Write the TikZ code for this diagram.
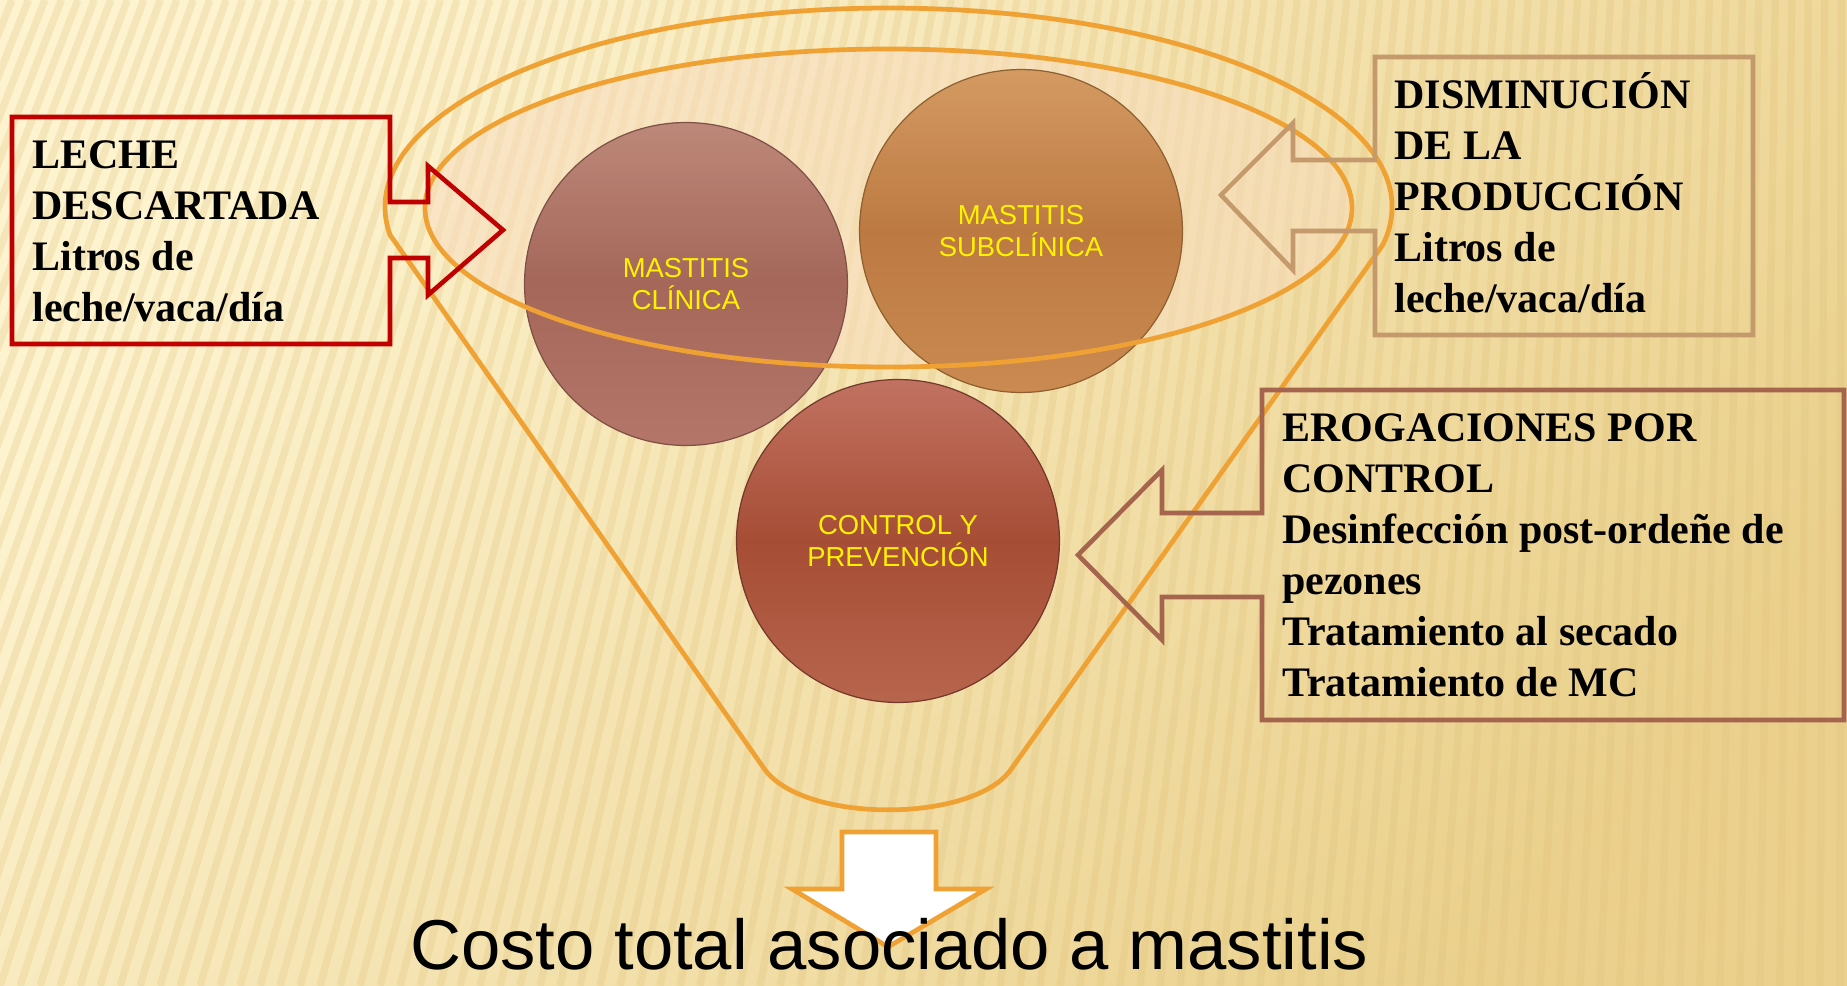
\documentclass[tikz,border=0pt]{standalone}
\usepackage{fontspec}
\setmainfont{Liberation Serif}
\setsansfont{Liberation Sans}
\usepackage{tikz}
\usetikzlibrary{calc}
\usepackage{xcolor}
\definecolor{FunnelOrange}{HTML}{EFA233}
\definecolor{CallRed}{HTML}{C00000}
\definecolor{CallTan}{HTML}{C49A6C}
\definecolor{CallBrown}{HTML}{A5644E}
\definecolor{BgLight}{HTML}{FDF3CF}
\definecolor{BgDark}{HTML}{EAD08C}
\definecolor{Stripe}{HTML}{DFC078}
\definecolor{PeachFill}{HTML}{F8DCC0}
\definecolor{CircYellow}{HTML}{FFF200}
% circle shades
\definecolor{ClinTop}{HTML}{BD8879}
\definecolor{ClinMid}{HTML}{A4675A}
\definecolor{ClinBot}{HTML}{B37668}
\definecolor{ClinRim}{HTML}{7E5046}
\definecolor{SubTop}{HTML}{D49A62}
\definecolor{SubMid}{HTML}{BC7A42}
\definecolor{SubBot}{HTML}{CA8A51}
\definecolor{SubRim}{HTML}{8E6030}
\definecolor{CtrlTop}{HTML}{C27262}
\definecolor{CtrlMid}{HTML}{A64D35}
\definecolor{CtrlBot}{HTML}{B8654E}
\definecolor{CtrlRim}{HTML}{74392A}
\tikzset{
  cost circle/.style={circle,minimum size=6.46cm,inner sep=0pt,align=center,
    text=CircYellow,font=\sffamily\fontsize{15.6}{18.2}\selectfont,line width=0.7pt},
  callout line/.style={line width=2.6pt,line join=miter},
  box text/.style={anchor=north west,inner sep=0pt,align=left,
    font=\fontsize{23.9}{29}\selectfont\bfseries},
  funnel line/.style={draw=FunnelOrange,line width=2.7pt,line join=round}
}

\begin{document}
\begin{tikzpicture}[x=0.02cm,y=-0.02cm]
  \useasboundingbox (0,0) rectangle (1847,986);
  % background and stripes
  \shade[top color=BgLight,bottom color=BgDark,shading angle=50] (0,0) rectangle (1847,986);
  \begin{scope}
    \clip (0,0) rectangle (1847,986);
    \foreach \xb in {-500,-480,...,1900}
      \draw[Stripe,line width=4.2pt,opacity=0.25] (\xb,986) -- ({0.824*\xb+325},0);
  \end{scope}
  \fill[PeachFill,opacity=0.5] (888.5,208) ellipse [x radius=463.5,y radius=159];
  % funnel
  \draw[funnel line] (1382.75,245) arc[start angle=11,end angle=-188,x radius=503.5,y radius=199]
    -- (763,767) .. controls (800,824) and (975,824) .. (1012,768) -- cycle;
  % the three circles
  \node[cost circle,draw=ClinRim,top color=ClinTop,bottom color=ClinBot,middle color=ClinMid]
    (clinica) at (686,284) {MASTITIS\\CLÍNICA};
  \node[cost circle,draw=SubRim,top color=SubTop,bottom color=SubBot,middle color=SubMid]
    (subclinica) at (1021,231) {MASTITIS\\SUBCLÍNICA};
  \node[cost circle,draw=CtrlRim,top color=CtrlTop,bottom color=CtrlBot,middle color=CtrlMid]
    (control) at (898,541) {CONTROL Y\\PREVENCIÓN};
  \draw[funnel line] (888.5,208) ellipse [x radius=463.5,y radius=159];
  % callouts
  \draw[callout line,CallRed] (12,117) -| (390,202) -| (428,166) -- (503,230) -- (428,295)
    |- (390,258) |- (12,344) -- cycle;
  \draw[callout line,CallTan] (1293,160) -- (1375,160) |- (1753,57) |- (1375,335) |- (1293,231)
    -- (1293,270) -- (1221,195) -- (1293,123) -- cycle;
  \draw[callout line,CallBrown] (1162,513) -- (1262,513) |- (1844,390) |- (1262,720) |- (1162,597)
    -- (1162,640) -- (1078,555) -- (1162,470) -- cycle;
  \node[box text] (leche) at (32,126) {\rule{0pt}{1em}LECHE\\DESCARTADA\\Litros de\\leche/vaca/día};
  \node[box text] (produccion) at (1394,66) {\rule{0pt}{1em}DISMINUCIÓN\\DE LA\\PRODUCCIÓN\\Litros de\\leche/vaca/día};
  \node[box text] (erogaciones) at (1282,399) {\rule{0pt}{1em}EROGACIONES POR\\CONTROL\\Desinfección post-ordeñe de\\pezones\\Tratamiento al secado\\Tratamiento de MC};
  % result
  \draw[funnel line,fill=white,line join=miter] (842,832) -- (936,832) -- (936,889) -- (986,889)
    -- (888,947) -- (792,889) -- (842,889) -- cycle;
  \node[anchor=base west,inner sep=0pt,font=\sffamily\fontsize{40.2}{48}\selectfont] (total) at (410,969) {Costo total asociado a mastitis};
\end{tikzpicture}
\end{document}
